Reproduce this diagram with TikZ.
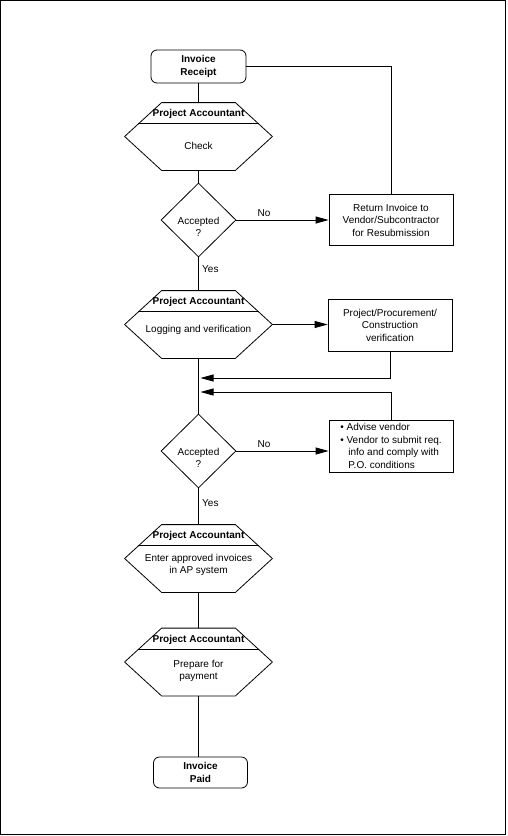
\documentclass[tikz,border=0pt]{standalone}
\usepackage{fontspec}
\setmainfont{Liberation Sans}
\usetikzlibrary{shapes.geometric,arrows.meta}
\begin{document}
\begin{tikzpicture}[x=1pt,y=-1pt,line width=0.8pt,
  font=\fontsize{10}{12.5}\selectfont,
  endnode/.style={draw,rounded corners=6pt,minimum width=95pt,minimum height=33pt,inner sep=0pt,align=center,font=\fontsize{10}{12.5}\selectfont\bfseries},
  hexnode/.style={minimum width=147pt,minimum height=67pt,inner sep=0pt},
  headtext/.style={inner sep=0pt,font=\fontsize{10}{12.5}\selectfont\bfseries},
  bodytext/.style={inner sep=0pt,align=center},
  decision/.style={draw,diamond,minimum width=75pt,minimum height=74pt,inner sep=0pt},
  taskbox/.style={draw,minimum width=124pt,minimum height=52pt,inner sep=0pt,align=center},
  flow/.style={-{Triangle[length=13pt,width=7pt]}}]
\useasboundingbox (0,0) rectangle (507,836);
\draw (0.5,0.5) rectangle (505.5,834.5);

\node[endnode] (receipt) at (198.5,66.5) {Invoice\\Receipt};
\node[hexnode] (check) at (198.5,136.5) {};
\node[bodytext] at (198.5,146) {Check};
\node[decision] (accept1) at (198.5,220) {};
\node[bodytext] at (198.5,227) {Accepted\\?};
\node[taskbox,minimum height=51pt] (ret) at (391,220) {Return Invoice to\\Vendor/Subcontractor\\for Resubmission};
\node[hexnode] (logging) at (198.5,324.5) {};
\node[bodytext] at (198.5,330) {Logging and verification};
\node[taskbox] (verif) at (390,325) {Project/Procurement/\\Construction\\verification};
\coordinate (in1) at (198.5,378);
\coordinate (in2) at (198.5,392);
\node[decision] (accept2) at (198.5,451) {};
\node[bodytext] at (198.5,458) {Accepted\\?};
\node[taskbox,align=left] (advise) at (391,446) {\textbullet\ Advise vendor\\\textbullet\ Vendor to submit req.\\\hspace*{8pt}info and comply with\\\hspace*{8pt}P.O. conditions};
\node[hexnode] (enter) at (198.5,558.5) {};
\node[bodytext] at (198.5,565) {Enter approved invoices\\in AP system};
\node[hexnode] (prepare) at (198.5,662) {};
\node[bodytext] at (198.5,671) {Prepare for\\payment};
\node[endnode,minimum width=94pt,minimum height=31pt] (paid) at (200.5,772.5) {Invoice\\Paid};

\foreach \h in {check,logging,enter,prepare}{
  \draw ([xshift=37pt]\h.north west) -- ([xshift=-37pt]\h.north east) -- (\h.east)
    -- ([xshift=-37pt]\h.south east) -- ([xshift=37pt]\h.south west) -- (\h.west) -- cycle;
  \draw ([xshift=13.8pt,yshift=-21pt]\h.north west) -- ([xshift=-13.8pt,yshift=-21pt]\h.north east);
  \node[headtext] at ([yshift=-11.5pt]\h.north) {Project Accountant};
}

\draw (receipt.south) -- (check.north);
\draw (check.south) -- (accept1.north);
\draw[flow] (accept1.east) -- node[above,pos=0.3] {No} (ret.west);
\draw (ret.north) |- (receipt.east);
\draw (accept1.south) -- node[right,pos=0.35] {Yes} (logging.north);
\draw[flow] (logging.east) -- (logging.east -| verif.west);
\draw[flow,shorten >=2pt] (verif.south) |- (in1);
\draw[flow,shorten >=2pt] (advise.north) |- (in2);
\draw (logging.south) -- (accept2.north);
\draw[flow] (accept2.east) -- node[above,pos=0.3] {No} (accept2.east -| advise.west);
\draw (accept2.south) -- node[right,pos=0.4] {Yes} (enter.north);
\draw (enter.south) -- (prepare.north);
\draw (prepare.south) -- (prepare.south |- paid.north);
\end{tikzpicture}
\end{document}
